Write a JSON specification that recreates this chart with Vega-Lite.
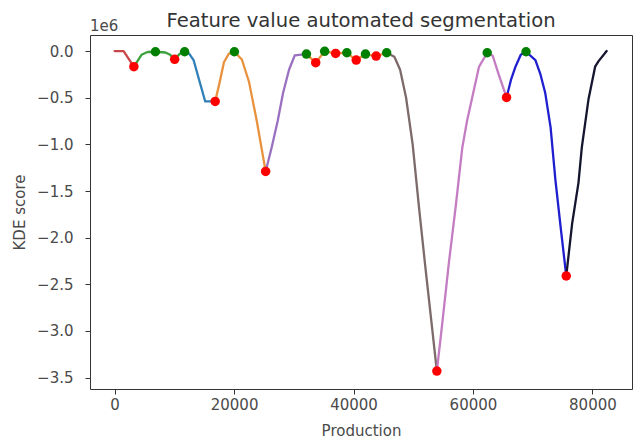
{
  "$schema": "https://vega.github.io/schema/vega-lite/v6.json",
  "width": 542,
  "height": 354,
  "autosize": {"type": "none"},
  "padding": {"left": 90, "top": 35, "right": 1, "bottom": 52},
  "background": "white",
  "config": {
    "font": "DejaVu Sans",
    "view": {"stroke": "#333", "strokeWidth": 1},
    "axis": {
      "grid": false,
      "domain": false,
      "tickColor": "#333",
      "tickSize": 5,
      "labelColor": "#4a4a4a",
      "labelFontSize": 15,
      "titleColor": "#4a4a4a",
      "titleFontSize": 15,
      "titleFontWeight": "normal"
    }
  },
  "title": {
    "text": "Feature value automated segmentation",
    "fontSize": 19.6,
    "fontWeight": "normal",
    "color": "#333",
    "offset": -13
  },
  "datasets": {
    "curve": [
      {"seg": "s01", "x": 0, "y": 0},
      {"seg": "s01", "x": 1500, "y": 0},
      {"seg": "s01", "x": 3222, "y": -167000},
      {"seg": "s02", "x": 3222, "y": -167000},
      {"seg": "s02", "x": 4500, "y": -40000},
      {"seg": "s02", "x": 5500, "y": -10000},
      {"seg": "s02", "x": 6833, "y": -7000},
      {"seg": "s02", "x": 8500, "y": -15000},
      {"seg": "s02", "x": 9300, "y": -40000},
      {"seg": "s02", "x": 10050, "y": -88000},
      {"seg": "s02", "x": 10900, "y": -30000},
      {"seg": "s02", "x": 11717, "y": -7000},
      {"seg": "s03", "x": 11717, "y": -7000},
      {"seg": "s03", "x": 12500, "y": -30000},
      {"seg": "s03", "x": 13217, "y": -96000},
      {"seg": "s03", "x": 14200, "y": -320000},
      {"seg": "s03", "x": 15167, "y": -540000},
      {"seg": "s03", "x": 16833, "y": -540000},
      {"seg": "s04", "x": 16833, "y": -540000},
      {"seg": "s04", "x": 17600, "y": -330000},
      {"seg": "s04", "x": 18300, "y": -120000},
      {"seg": "s04", "x": 19100, "y": -30000},
      {"seg": "s04", "x": 20050, "y": -7000},
      {"seg": "s04", "x": 21300, "y": -90000},
      {"seg": "s04", "x": 22500, "y": -330000},
      {"seg": "s04", "x": 23800, "y": -750000},
      {"seg": "s04", "x": 25283, "y": -1290000},
      {"seg": "s05", "x": 25283, "y": -1290000},
      {"seg": "s05", "x": 26300, "y": -1030000},
      {"seg": "s05", "x": 27300, "y": -750000},
      {"seg": "s05", "x": 28200, "y": -450000},
      {"seg": "s05", "x": 29200, "y": -200000},
      {"seg": "s05", "x": 30167, "y": -45000},
      {"seg": "s05", "x": 32117, "y": -32000},
      {"seg": "s06", "x": 32117, "y": -32000},
      {"seg": "s06", "x": 33667, "y": -124000},
      {"seg": "s06", "x": 35167, "y": -2000},
      {"seg": "s06", "x": 37000, "y": -25000},
      {"seg": "s06", "x": 38883, "y": -18000},
      {"seg": "s06", "x": 40450, "y": -96000},
      {"seg": "s06", "x": 42000, "y": -32000},
      {"seg": "s06", "x": 43783, "y": -53000},
      {"seg": "s06", "x": 45550, "y": -18000},
      {"seg": "s07", "x": 45550, "y": -18000},
      {"seg": "s07", "x": 46833, "y": -60000},
      {"seg": "s07", "x": 47800, "y": -200000},
      {"seg": "s07", "x": 48800, "y": -500000},
      {"seg": "s07", "x": 49900, "y": -1000000},
      {"seg": "s07", "x": 51000, "y": -1700000},
      {"seg": "s07", "x": 52000, "y": -2300000},
      {"seg": "s07", "x": 53000, "y": -2880000},
      {"seg": "s07", "x": 53950, "y": -3430000},
      {"seg": "s08", "x": 53950, "y": -3430000},
      {"seg": "s08", "x": 54800, "y": -2950000},
      {"seg": "s08", "x": 56000, "y": -2250000},
      {"seg": "s08", "x": 57100, "y": -1670000},
      {"seg": "s08", "x": 58200, "y": -1040000},
      {"seg": "s08", "x": 59000, "y": -750000},
      {"seg": "s08", "x": 59900, "y": -490000},
      {"seg": "s08", "x": 61000, "y": -170000},
      {"seg": "s08", "x": 62383, "y": -18000},
      {"seg": "s08", "x": 63300, "y": -50000},
      {"seg": "s08", "x": 64300, "y": -250000},
      {"seg": "s08", "x": 65617, "y": -497000},
      {"seg": "s09", "x": 65617, "y": -497000},
      {"seg": "s09", "x": 66400, "y": -300000},
      {"seg": "s09", "x": 67117, "y": -167000},
      {"seg": "s09", "x": 68000, "y": -40000},
      {"seg": "s09", "x": 68883, "y": -7000},
      {"seg": "s09", "x": 70450, "y": -96000},
      {"seg": "s09", "x": 71300, "y": -250000},
      {"seg": "s09", "x": 72100, "y": -450000},
      {"seg": "s09", "x": 73000, "y": -820000},
      {"seg": "s09", "x": 73800, "y": -1380000},
      {"seg": "s09", "x": 74700, "y": -1900000},
      {"seg": "s09", "x": 75617, "y": -2410000},
      {"seg": "s10", "x": 75617, "y": -2410000},
      {"seg": "s10", "x": 76600, "y": -1850000},
      {"seg": "s10", "x": 77667, "y": -1410000},
      {"seg": "s10", "x": 78217, "y": -1035000},
      {"seg": "s10", "x": 79333, "y": -520000},
      {"seg": "s10", "x": 80450, "y": -167000},
      {"seg": "s10", "x": 81000, "y": -110000},
      {"seg": "s10", "x": 82383, "y": 0}
    ],
    "points": [
      {"kind": "min", "x": 3222, "y": -167000},
      {"kind": "min", "x": 10050, "y": -88000},
      {"kind": "min", "x": 16833, "y": -540000},
      {"kind": "min", "x": 25283, "y": -1290000},
      {"kind": "min", "x": 33667, "y": -124000},
      {"kind": "min", "x": 37000, "y": -25000},
      {"kind": "min", "x": 40450, "y": -96000},
      {"kind": "min", "x": 43783, "y": -53000},
      {"kind": "min", "x": 53950, "y": -3430000},
      {"kind": "min", "x": 65617, "y": -497000},
      {"kind": "min", "x": 75617, "y": -2410000},
      {"kind": "max", "x": 6833, "y": -7000},
      {"kind": "max", "x": 11717, "y": -7000},
      {"kind": "max", "x": 20050, "y": -7000},
      {"kind": "max", "x": 32117, "y": -32000},
      {"kind": "max", "x": 35167, "y": -2000},
      {"kind": "max", "x": 38883, "y": -18000},
      {"kind": "max", "x": 42000, "y": -32000},
      {"kind": "max", "x": 45550, "y": -18000},
      {"kind": "max", "x": 62383, "y": -18000},
      {"kind": "max", "x": 68883, "y": -7000}
    ]
  },
  "layer": [
    {
      "data": {"name": "curve"},
      "mark": {"type": "line", "strokeWidth": 2.3, "strokeCap": "round", "strokeJoin": "round"},
      "encoding": {
        "x": {
          "field": "x", "type": "quantitative",
          "scale": {"domain": [-4125, 86625], "nice": false, "zero": false},
          "axis": {"values": [0, 20000, 40000, 60000, 80000], "format": "d", "title": "Production", "labelPadding": 3, "titlePadding": 11}
        },
        "y": {
          "field": "y", "type": "quantitative",
          "scale": {"domain": [-3622500, 172500], "nice": false, "zero": false},
          "axis": {
            "values": [0, -500000, -1000000, -1500000, -2000000, -2500000, -3000000, -3500000],
            "labelExpr": "replace(format(datum.value / 1000000, '.1f'), '-', '−')",
            "title": "KDE score",
            "labelPadding": 12,
            "titlePadding": 9
          }
        },
        "color": {
          "field": "seg", "type": "nominal", "legend": null,
          "scale": {
            "domain": ["s01", "s02", "s03", "s04", "s05", "s06", "s07", "s08", "s09", "s10"],
            "range": ["#c9474a", "#3ca03c", "#2f7fb8", "#e8923f", "#9a70c0", "#e8923f", "#7d6a6a", "#c47cc2", "#1f1fcf", "#151530"]
          }
        },
        "order": {"field": "x", "type": "quantitative"}
      }
    },
    {
      "data": {"name": "points"},
      "mark": {"type": "circle", "size": 90, "opacity": 1},
      "encoding": {
        "x": {"field": "x", "type": "quantitative"},
        "y": {"field": "y", "type": "quantitative"},
        "color": {
          "field": "kind", "type": "nominal", "legend": null,
          "scale": {"domain": ["min", "max"], "range": ["#ff0000", "#008000"]}
        }
      }
    },
    {
      "data": {"values": [{"label": "1e6"}]},
      "mark": {"type": "text", "align": "left", "baseline": "alphabetic", "dy": -4, "fontSize": 15, "color": "#4a4a4a"},
      "encoding": {
        "x": {"datum": -4125, "type": "quantitative"},
        "y": {"datum": 172500, "type": "quantitative"},
        "text": {"field": "label"}
      }
    }
  ],
  "resolve": {"scale": {"color": "independent"}}
}
